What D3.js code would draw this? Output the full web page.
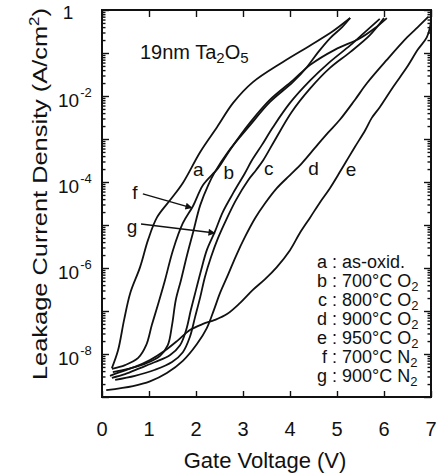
<!DOCTYPE html>
<html><head><meta charset="utf-8">
<script src="https://cdn.jsdelivr.net/npm/d3@7"></script>
<style>body{margin:0;background:#fff}text{font-family:"Liberation Sans",Arial,sans-serif;fill:#111}</style>
</head><body>
<svg id="chart" width="443" height="476"></svg>
<script>
// ---- data ----
const xTicks = [0, 1, 2, 3, 4, 5, 6, 7];
const yLabelExps = [-2, -4, -6, -8];
const seriesNames = ["a", "b", "c", "d", "e", "f", "g"];
const legendKeys = ["a", "b", "c", "d", "e", "f", "g"];
const legendMain = ["as-oxid.", "700°C O", "800°C O", "900°C O", "950°C O", "700°C N", "900°C N"];
const legendSub = ["", "2", "2", "2", "2", "2", "2"];

const aV = [0.21, 0.34, 0.47, 0.60, 0.81, 0.98, 1.17, 1.45, 1.72, 2.09, 2.45, 2.79, 3.21, 3.85, 4.43, 4.91, 5.28];
const aJ = [4.7e-9, 1.2e-8, 6.2e-8, 2.6e-7, 1.05e-6, 4.5e-6, 1.5e-5, 3.8e-5, 9.5e-5, 5e-4, 1.9e-3, 6.9e-3, 0.021, 0.062, 0.15, 0.32, 0.65];

const bV = [0.23, 0.55, 0.91, 1.23, 1.40, 1.49, 1.57, 1.68, 1.81, 1.94, 2.09, 2.26, 2.40, 2.68, 3.15, 3.57, 4.06, 4.36, 4.60, 4.85, 5.11, 5.28];
const bJ = [3.8e-9, 4.5e-9, 5.9e-9, 8.9e-9, 1.6e-8, 4.7e-8, 1.8e-7, 5.2e-7, 2.0e-6, 6.9e-6, 2.9e-5, 8.5e-5, 1.7e-4, 5e-4, 2.1e-3, 7.2e-3, 0.021, 0.047, 0.105, 0.22, 0.40, 0.65];

const cV = [0.28, 0.70, 1.13, 1.49, 1.72, 1.87, 1.98, 2.09, 2.19, 2.32, 2.47, 2.64, 2.85, 3.11, 3.28, 3.43, 3.68, 4.04, 4.43, 4.85, 5.28, 5.70, 6.00];
const cJ = [2.5e-9, 3.1e-9, 4.3e-9, 6.5e-9, 1.1e-8, 2.5e-8, 7.2e-8, 2.1e-7, 6.2e-7, 1.8e-6, 5e-6, 1.3e-5, 3.8e-5, 1.1e-4, 1.9e-4, 3.2e-4, 9.5e-4, 4.3e-3, 0.015, 0.045, 0.105, 0.26, 0.65];

const dV = [0.09, 0.66, 1.02, 1.38, 1.72, 2.02, 2.23, 2.38, 2.51, 2.68, 2.85, 3.04, 3.26, 3.47, 3.72, 4.00, 4.26, 4.53, 4.81, 5.06, 5.38, 5.64, 6.06, 6.49, 6.72, 6.94];
const dJ = [1.45e-9, 1.8e-9, 2.3e-9, 3.6e-9, 6.9e-9, 1.7e-8, 4e-8, 1.05e-7, 2.6e-7, 6.9e-7, 1.9e-6, 5.2e-6, 1.45e-5, 3.2e-5, 7.2e-5, 1.45e-4, 2.8e-4, 6.2e-4, 1.4e-3, 2.8e-3, 8.1e-3, 0.02, 0.069, 0.23, 0.40, 0.69];

const eV = [0.17, 0.38, 0.70, 1.02, 1.34, 1.62, 1.87, 2.15, 2.40, 2.66, 2.94, 3.21, 3.47, 3.72, 4.00, 4.21, 4.43, 4.64, 4.85, 5.06, 5.21, 5.38, 5.60, 5.74, 5.91, 6.19, 6.49, 6.72, 6.91, 6.98, 7.0];
const eJ = [3.1e-9, 3.8e-9, 5e-9, 7.2e-9, 1.2e-8, 2.1e-8, 3.6e-8, 5e-8, 6.2e-8, 8.5e-8, 1.55e-7, 3.1e-7, 5.5e-7, 1.05e-6, 2.6e-6, 6.5e-6, 1.5e-5, 3.4e-5, 7.2e-5, 1.7e-4, 3.2e-4, 6.5e-4, 1.6e-3, 3.1e-3, 5.5e-3, 0.016, 0.047, 0.12, 0.23, 0.40, 0.60];

const fV = [0.21, 0.49, 0.77, 0.94, 1.06, 1.19, 1.34, 1.51, 1.72, 1.94, 2.15, 2.47, 2.72, 3.15, 3.57, 4.06, 4.43, 4.96, 5.49, 5.81, 6.06];
const fJ = [4.5e-9, 5.5e-9, 8.1e-9, 1.6e-8, 4.7e-8, 1.4e-7, 5.2e-7, 2.6e-6, 1.1e-5, 2.8e-5, 8.5e-5, 2.1e-4, 5.5e-4, 2.4e-3, 8.1e-3, 0.023, 0.053, 0.12, 0.22, 0.38, 0.65];

const gV = [0.21, 0.49, 0.81, 1.13, 1.45, 1.66, 1.79, 1.89, 2.00, 2.11, 2.23, 2.40, 2.57, 2.79, 3.04, 3.19, 3.40, 3.64, 4.00, 4.43, 4.85, 5.28, 5.60, 5.91];
const gJ = [2.8e-9, 3.4e-9, 4.7e-9, 6.5e-9, 9.5e-9, 1.6e-8, 3.6e-8, 1.05e-7, 3.1e-7, 9e-7, 2.6e-6, 6.9e-6, 2e-5, 5.5e-5, 1.6e-4, 3.2e-4, 7.2e-4, 1.9e-3, 6.9e-3, 0.023, 0.062, 0.15, 0.31, 0.62];

// curve label anchors (V, J)
const curveLabelV = [2.05, 2.70, 3.55, 4.50, 5.30];
const curveLabelJ = [1.9e-4, 1.6e-4, 2.0e-4, 2.0e-4, 1.9e-4];
// arrows: label position, start and tip (V, J)
const arrowLabelV = [0.70, 0.64];
const arrowLabelJ = [5.5e-5, 8.9e-6];
const arrowStartV = [0.87, 0.83];
const arrowStartJ = [5.3e-5, 1.05e-5];
const arrowTipV = [1.91, 2.40];
const arrowTipJ = [2.5e-5, 6.5e-6];

// ---- chart ----
const svg = d3.select("#chart");
const L = 102, R = 431, T = 10, B = 397;
const x = d3.scaleLinear().domain([0, 7]).range([L, R]);
const y = d3.scaleLog().domain([1e-9, 1]).range([B, T]);

const majors = d3.range(-9, 1).map(k => Math.pow(10, k));
const minors = y.ticks().filter(v => !majors.some(m => Math.abs(m - v) / v < 1e-6));

function styleAxis(g) {
  g.select(".domain").remove();
  g.selectAll("line").attr("stroke", "#111").attr("stroke-width", 1.4);
  g.selectAll("text").remove();
}
svg.append("g").attr("transform", `translate(0,${B})`)
  .call(d3.axisBottom(x).tickValues(xTicks).tickSize(-6).tickFormat("")).call(styleAxis);
svg.append("g").attr("transform", `translate(0,${T})`)
  .call(d3.axisTop(x).tickValues(xTicks).tickSize(-7).tickFormat("")).call(styleAxis);
svg.append("g").attr("transform", `translate(${L},0)`)
  .call(d3.axisLeft(y).tickValues(majors).tickSize(-7).tickFormat("")).call(styleAxis);
svg.append("g").attr("transform", `translate(${L},0)`)
  .call(d3.axisLeft(y).tickValues(minors).tickSize(-3.5).tickFormat("")).call(styleAxis);
svg.append("g").attr("transform", `translate(${R},0)`)
  .call(d3.axisRight(y).tickValues(majors).tickSize(-7).tickFormat("")).call(styleAxis);
svg.append("g").attr("transform", `translate(${R},0)`)
  .call(d3.axisRight(y).tickValues(minors).tickSize(-3.5).tickFormat("")).call(styleAxis);

svg.append("rect").attr("x", L).attr("y", T).attr("width", R - L).attr("height", B - T)
  .attr("fill", "none").attr("stroke", "#111").attr("stroke-width", 2);

// x tick labels
svg.selectAll(".xl").data(xTicks).enter().append("text")
  .attr("x", d => x(d)).attr("y", 436).attr("text-anchor", "middle")
  .attr("font-size", 20).text(d => d);

// y tick labels
svg.append("text").attr("x", 68).attr("y", 19).attr("text-anchor", "middle").attr("font-size", 19).text("1");
yLabelExps.forEach(k => {
  const t = svg.append("text").attr("x", 58).attr("y", y(Math.pow(10, k)) + 11).attr("font-size", 19);
  t.append("tspan").text("10");
  t.append("tspan").attr("dx", 1).attr("dy", -10).attr("font-size", 13).text("-" + Math.abs(k));
});

// axis titles
svg.append("text").attr("x", 265).attr("y", 468).attr("text-anchor", "middle").attr("font-size", 22).text("Gate Voltage (V)");
const yt = svg.append("text").attr("transform", "translate(47,194) rotate(-90)")
  .attr("text-anchor", "middle").attr("font-size", 21)
  .attr("textLength", 372).attr("lengthAdjust", "spacingAndGlyphs");
yt.append("tspan").text("Leakage Current Density (A/cm");
yt.append("tspan").attr("dy", -8).attr("font-size", 14).text("2");
yt.append("tspan").attr("dy", 8).text(")");

// inset title
const tt = svg.append("text").attr("x", 140).attr("y", 59).attr("font-size", 20);
tt.append("tspan").text("19nm Ta");
tt.append("tspan").attr("dy", 4).attr("font-size", 15).text("2");
tt.append("tspan").attr("dy", -4).text("O");
tt.append("tspan").attr("dy", 4).attr("font-size", 15).text("5");

// curves
const seriesV = [aV, bV, cV, dV, eV, fV, gV];
const seriesJ = [aJ, bJ, cJ, dJ, eJ, fJ, gJ];
const line = d3.line().x(d => x(d[0])).y(d => y(d[1])).curve(d3.curveCatmullRom.alpha(0.5));
seriesNames.forEach((n, i) => {
  const pts = seriesV[i].map((v, j) => [v, seriesJ[i][j]]);
  svg.append("path").datum(pts).attr("d", line)
    .attr("fill", "none").attr("stroke", "#111").attr("stroke-width", 1.8).attr("stroke-linejoin", "round");
});

// curve labels a-e
seriesNames.slice(0, 5).forEach((n, i) => {
  svg.append("text").attr("x", x(curveLabelV[i])).attr("y", y(curveLabelJ[i]) + 6)
    .attr("text-anchor", "middle").attr("font-size", 19).text(n);
});

// arrows f, g
const defs = svg.append("defs");
defs.append("marker").attr("id", "ah").attr("viewBox", "0 0 10 10").attr("refX", 9).attr("refY", 5)
  .attr("markerWidth", 9).attr("markerHeight", 7).attr("markerUnits", "userSpaceOnUse").attr("orient", "auto")
  .append("path").attr("d", "M0,0 L10,5 L0,10 Z").attr("fill", "#111");
["f", "g"].forEach((n, i) => {
  svg.append("text").attr("x", x(arrowLabelV[i])).attr("y", y(arrowLabelJ[i]) + 6)
    .attr("text-anchor", "middle").attr("font-size", 19).text(n);
  svg.append("line").attr("x1", x(arrowStartV[i])).attr("y1", y(arrowStartJ[i]))
    .attr("x2", x(arrowTipV[i])).attr("y2", y(arrowTipJ[i]))
    .attr("stroke", "#111").attr("stroke-width", 1.5).attr("marker-end", "url(#ah)");
});

// legend
const legTop = 268, legStep = 19, colonX = 337;
legendKeys.forEach((k, i) => {
  const yy = legTop + i * legStep;
  svg.append("text").attr("x", colonX).attr("y", yy).attr("text-anchor", "end").attr("font-size", 18).text(k + " :");
  const t = svg.append("text").attr("x", colonX + 5).attr("y", yy).attr("font-size", 18);
  t.append("tspan").text(legendMain[i]);
  if (legendSub[i]) t.append("tspan").attr("dy", 4).attr("font-size", 13).text(legendSub[i]);
});
</script>
</body></html>
